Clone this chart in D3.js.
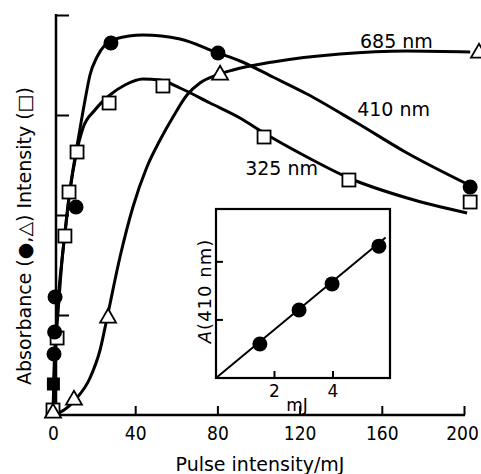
<!DOCTYPE html>
<html>
<head>
<meta charset="utf-8">
<script src="https://cdn.jsdelivr.net/npm/d3@7"></script>
<style>
  body { margin: 0; background: #fff; }
  svg { display: block; }
  text { font-family: "DejaVu Sans", sans-serif; fill: #000; }
</style>
</head>
<body>
<svg id="chart" width="481" height="474"></svg>
<script>
// Measured points, [pulse intensity (mJ), signal]
var abs410 = [[1.0, 1.18], [0.8, 0.83], [0.5, 0.61], [11.2, 2.08], [28.2, 3.72], [80.3, 3.62], [203, 2.28]];
var blackSquares = [[0.2, 0.31]];
var int325 = [[0, 0.05], [2, 0.77], [5.8, 1.79], [7.8, 2.23], [11.7, 2.63], [27.3, 3.12], [53.5, 3.29], [102.7, 2.78], [144, 2.35], [203, 2.13]];
var abs685 = [[0, 0.02], [10.2, 0.15], [26.8, 0.97], [81.3, 3.40], [207.3, 3.62]];

// Hand-drawn smooth curves
var fit410 = [[0, 0], [0.5, 0.45], [1.5, 0.85], [2.9, 1.25], [4.9, 1.65], [7.3, 2.1], [9.7, 2.45], [12.2, 2.75], [15.6, 3.15], [18, 3.4], [21.4, 3.58], [25.3, 3.7], [30.2, 3.76], [43.8, 3.8], [61.8, 3.76], [80.3, 3.62], [91, 3.54], [107, 3.38], [123.6, 3.21], [148, 2.92], [172.3, 2.62], [200.5, 2.32]];
var fit325 = [[0, 0], [0.5, 0.35], [1.5, 0.75], [2.9, 1.15], [4.4, 1.55], [6.3, 1.9], [8.3, 2.25], [11.2, 2.6], [14.6, 2.87], [20.4, 3.05], [27.7, 3.2], [35, 3.3], [43.8, 3.36], [52, 3.35], [61.8, 3.27], [76.4, 3.12], [91, 2.97], [102.7, 2.82], [123.6, 2.58], [144, 2.37], [172.3, 2.17], [201.5, 2.02]];
var fit685 = [[0, 0], [5.4, 0.05], [10.7, 0.15], [18, 0.37], [22.9, 0.65], [26.3, 0.97], [32.6, 1.58], [38.9, 2.08], [45.7, 2.48], [52.1, 2.75], [58.4, 2.98], [65.2, 3.2], [71.5, 3.32], [79.8, 3.4], [87.6, 3.45], [107, 3.53], [139.7, 3.61], [172.3, 3.64], [203, 3.63]];

var xTicks = [0, 40, 80, 120, 160, 200];
var yTicks = [1, 2, 3, 4];

// Inset: A(410 nm) against mJ
var insetPts = [[1.50, 0.585], [2.84, 1.17], [3.97, 1.62], [5.57, 2.27]];
var insetLine = [[0, 0], [5.8, 2.42]];
var insetXTicks = [2, 4];
var insetYTicks = [1, 2];

var curveLabels = [
  {text: "685 nm", x: 149.4, y: 3.67},
  {text: "410 nm", x: 148, y: 2.99},
  {text: "325 nm", x: 93.5, y: 2.40}
];

var svg = d3.select("#chart");

var x = d3.scaleLinear().domain([0, 200]).range([53, 464]);
var y = d3.scaleLinear().domain([0, 4]).range([415, 15]);

// axes
var xAxis = d3.axisBottom(x).tickValues(xTicks).tickSizeInner(-9).tickSizeOuter(0).tickPadding(12);
var gx = svg.append("g").attr("transform", "translate(0,415)").call(xAxis);
gx.select(".domain").remove();
gx.append("line").attr("x1", 47).attr("x2", 465).attr("stroke", "#000").attr("stroke-width", 2.5);
gx.selectAll(".tick line").attr("stroke-width", 2);
gx.selectAll(".tick text").attr("font-size", 19).style("font-family", "'DejaVu Sans Condensed', 'DejaVu Sans'").attr("fill", "#000");
gx.selectAll(".tick text").filter(function(d){ return d === 200; }).attr("dx", -2);

var yAxis = d3.axisLeft(y).tickValues(yTicks).tickSizeInner(-13).tickSizeOuter(0).tickFormat("");
var gy = svg.append("g").attr("transform", "translate(56,0)").call(yAxis);
gy.select(".domain").remove();
gy.append("line").attr("y1", 14).attr("y2", 416).attr("stroke", "#000").attr("stroke-width", 2.5);
gy.selectAll(".tick line").attr("stroke-width", 2);

svg.append("text").attr("x", 260).attr("y", 471).attr("text-anchor", "middle")
  .attr("font-size", 19).text("Pulse intensity/mJ");
svg.append("text").attr("transform", "translate(31,236) rotate(-90)").attr("text-anchor", "middle")
  .attr("font-size", 19).text("Absorbance (\u25CF,\u25B3) Intensity (\u25A1)");

// curves
var line = d3.line().x(function(d){ return x(d[0]); }).y(function(d){ return y(d[1]); })
  .curve(d3.curveMonotoneX);
[fit685, fit325, fit410].forEach(function(f){
  svg.append("path").attr("d", line(f)).attr("fill", "none").attr("stroke", "#000").attr("stroke-width", 3);
});

// markers
svg.selectAll(".sq").data(int325).enter().append("rect")
  .attr("x", function(d){ return x(d[0]) - 6.5; }).attr("y", function(d){ return y(d[1]) - 6.5; })
  .attr("width", 13).attr("height", 13).attr("fill", "#fff").attr("stroke", "#000").attr("stroke-width", 1.8);
svg.selectAll(".tri").data(abs685).enter().append("path")
  .attr("d", d3.symbol().type(d3.symbolTriangle).size(110))
  .attr("transform", function(d){ return "translate(" + x(d[0]) + "," + y(d[1]) + ")"; })
  .attr("fill", "#fff").attr("stroke", "#000").attr("stroke-width", 1.8);
svg.selectAll(".bsq").data(blackSquares).enter().append("rect")
  .attr("x", function(d){ return x(d[0]) - 6.5; }).attr("y", function(d){ return y(d[1]) - 6.5; })
  .attr("width", 13).attr("height", 13).attr("fill", "#000");
svg.selectAll(".dot").data(abs410).enter().append("circle")
  .attr("cx", function(d){ return x(d[0]); }).attr("cy", function(d){ return y(d[1]); })
  .attr("r", 7.5).attr("fill", "#000");

svg.selectAll(".clab").data(curveLabels).enter().append("text")
  .attr("x", function(d){ return x(d.x); }).attr("y", function(d){ return y(d.y); })
  .attr("font-size", 19).text(function(d){ return d.text; });

// inset
var ix = d3.scaleLinear().domain([0, 5.95]).range([216, 390]);
var iy = d3.scaleLinear().domain([0, 2.91]).range([378, 209]);
var inset = svg.append("g");
inset.append("rect").attr("x", 216).attr("y", 209).attr("width", 174).attr("height", 169)
  .attr("fill", "#fff").attr("stroke", "#000").attr("stroke-width", 2.2);
inset.selectAll(".ixt").data(insetXTicks).enter().append("line")
  .attr("x1", function(d){ return ix(d); }).attr("x2", function(d){ return ix(d); })
  .attr("y1", 378).attr("y2", 371).attr("stroke", "#000").attr("stroke-width", 2);
inset.selectAll(".iyt").data(insetYTicks).enter().append("line")
  .attr("y1", function(d){ return iy(d); }).attr("y2", function(d){ return iy(d); })
  .attr("x1", 216).attr("x2", 223).attr("stroke", "#000").attr("stroke-width", 2);
inset.selectAll(".ixl").data(insetXTicks).enter().append("text")
  .attr("x", function(d){ return ix(d); }).attr("y", 397).attr("text-anchor", "middle")
  .attr("font-size", 17).text(function(d){ return d; });
inset.append("text").attr("x", 297).attr("y", 411).attr("text-anchor", "middle").attr("font-size", 17).text("mJ");
inset.append("text").attr("transform", "translate(211,291) rotate(-90)").attr("text-anchor", "middle")
  .attr("font-size", 18).attr("letter-spacing", 1)
  .html('<tspan font-style="italic">A</tspan>(410 nm)');
inset.append("path").attr("d", d3.line().x(function(d){ return ix(d[0]); }).y(function(d){ return iy(d[1]); })(insetLine))
  .attr("stroke", "#000").attr("stroke-width", 2).attr("fill", "none");
inset.selectAll(".idot").data(insetPts).enter().append("circle")
  .attr("cx", function(d){ return ix(d[0]); }).attr("cy", function(d){ return iy(d[1]); })
  .attr("r", 7.5).attr("fill", "#000");
</script>
</body>
</html>
